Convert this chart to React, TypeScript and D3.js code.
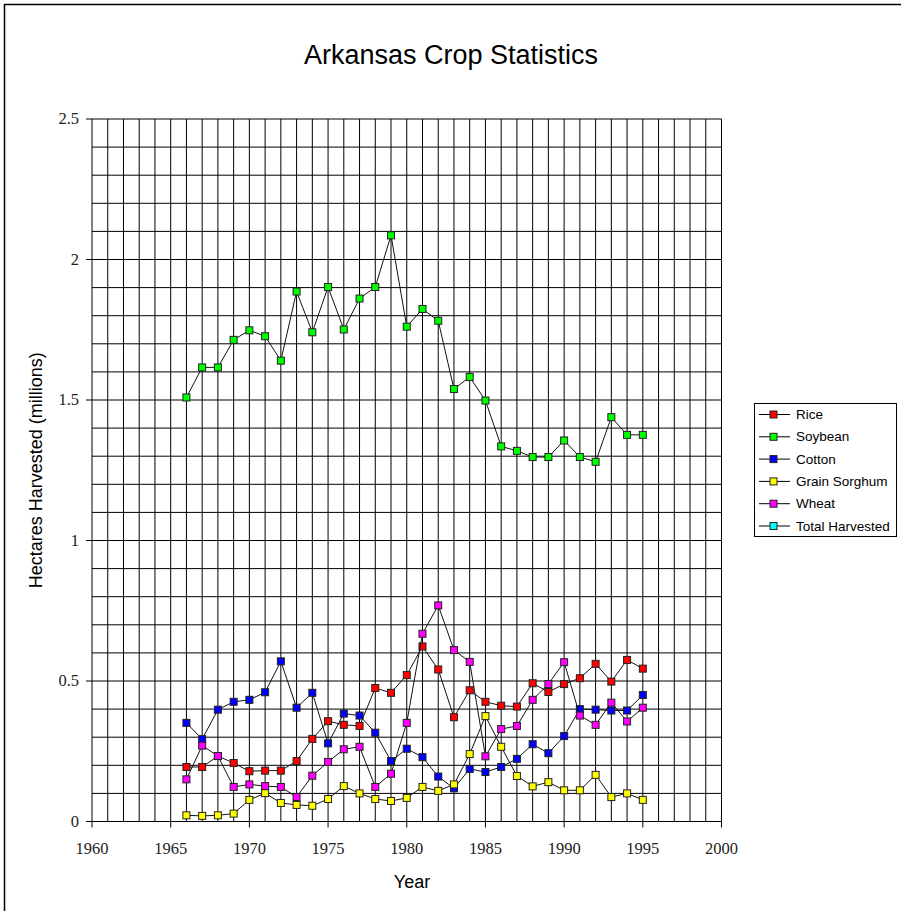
import React, { useEffect, useRef } from 'react';
import * as d3 from 'd3';

// Years covered by the series
const years = [
  1966, 1967, 1968, 1969, 1970, 1971, 1972, 1973, 1974, 1975,
  1976, 1977, 1978, 1979, 1980, 1981, 1982, 1983, 1984, 1985,
  1986, 1987, 1988, 1989, 1990, 1991, 1992, 1993, 1994, 1995,
];

// Hectares harvested (millions)
const rice = [
  0.194, 0.194, 0.233, 0.208, 0.179, 0.181, 0.181, 0.215, 0.294, 0.357,
  0.344, 0.340, 0.475, 0.458, 0.521, 0.623, 0.541, 0.371, 0.467, 0.426,
  0.412, 0.409, 0.492, 0.461, 0.489, 0.510, 0.561, 0.498, 0.575, 0.544,
];
const soybean = [
  1.509, 1.616, 1.616, 1.714, 1.748, 1.727, 1.640, 1.886, 1.741, 1.902,
  1.751, 1.861, 1.902, 2.086, 1.761, 1.824, 1.782, 1.539, 1.582, 1.498,
  1.335, 1.319, 1.297, 1.297, 1.356, 1.297, 1.280, 1.439, 1.376, 1.376,
];
const cotton = [
  0.351, 0.293, 0.398, 0.426, 0.433, 0.460, 0.570, 0.405, 0.458, 0.278,
  0.384, 0.377, 0.316, 0.215, 0.259, 0.229, 0.160, 0.118, 0.187, 0.176,
  0.194, 0.223, 0.275, 0.243, 0.304, 0.400, 0.398, 0.395, 0.395, 0.450,
];
const grainSorghum = [
  0.022, 0.020, 0.022, 0.028, 0.077, 0.101, 0.066, 0.059, 0.056, 0.080,
  0.126, 0.100, 0.080, 0.073, 0.084, 0.123, 0.109, 0.132, 0.240, 0.375,
  0.266, 0.162, 0.125, 0.140, 0.111, 0.111, 0.166, 0.087, 0.100, 0.077,
];
const wheat = [
  0.150, 0.270, 0.233, 0.123, 0.132, 0.126, 0.123, 0.087, 0.163, 0.212,
  0.257, 0.266, 0.123, 0.170, 0.351, 0.668, 0.769, 0.610, 0.568, 0.232,
  0.329, 0.340, 0.433, 0.489, 0.567, 0.377, 0.344, 0.423, 0.356, 0.405,
];
// Total harvested is off the scale, only shown in the legend
const totalHarvested: number[] = [];

const seriesNames = ['Rice', 'Soybean', 'Cotton', 'Grain Sorghum', 'Wheat', 'Total Harvested'];
const seriesValues = [rice, soybean, cotton, grainSorghum, wheat, totalHarvested];
const seriesColors = ['#ff0000', '#00ff00', '#0000ff', '#ffff00', '#ff00ff', '#00ffff'];

const yTicks = [0, 0.5, 1, 1.5, 2, 2.5];
const xTicks = [1960, 1965, 1970, 1975, 1980, 1985, 1990, 1995, 2000];

const W = 901;
const H = 911;

const App: React.FC = () => {
  const svgRef = useRef<SVGSVGElement>(null);

  useEffect(() => {
    if (!svgRef.current) return;
    const svg = d3.select(svgRef.current);
    svg.selectAll('*').remove();

    const left = 92, right = 721.5, top = 119, bottom = 821.5;
    const x = d3.scaleLinear().domain([1960, 2000]).range([left, right]);
    const y = d3.scaleLinear().domain([0, 2.5]).range([bottom, top]);

    svg.append('rect').attr('width', W).attr('height', H).attr('fill', '#fff');

    // outer frame
    svg.append('rect')
      .attr('x', 4.5).attr('y', 4.5)
      .attr('width', W + 20).attr('height', H + 20)
      .attr('fill', 'none').attr('stroke', '#000').attr('stroke-width', 1.5);

    svg.append('text')
      .attr('x', 451).attr('y', 64)
      .attr('text-anchor', 'middle')
      .attr('font-family', 'Liberation Sans, Arial, sans-serif')
      .attr('font-size', 27)
      .text('Arkansas Crop Statistics');

    // --- grid ---
    const grid = svg.append('g').attr('stroke', '#000').attr('stroke-width', 1);
    d3.range(1960, 2001).forEach((yr) => {
      grid.append('line')
        .attr('x1', x(yr)).attr('x2', x(yr))
        .attr('y1', top).attr('y2', bottom);
    });
    d3.range(0, 26).forEach((i) => {
      const v = i / 10;
      grid.append('line')
        .attr('x1', left).attr('x2', right)
        .attr('y1', y(v)).attr('y2', y(v));
    });

    // --- axes ---
    const axisFont = 'Liberation Serif, Times New Roman, serif';
    yTicks.forEach((v) => {
      svg.append('line')
        .attr('x1', left - 6).attr('x2', left)
        .attr('y1', y(v)).attr('y2', y(v))
        .attr('stroke', '#000');
      svg.append('text')
        .attr('x', left - 13).attr('y', y(v) + 5)
        .attr('text-anchor', 'end')
        .attr('font-family', axisFont)
        .attr('font-size', 16.5)
        .attr('fill', '#222')
        .text(String(v));
    });
    xTicks.forEach((v) => {
      svg.append('line')
        .attr('x1', x(v)).attr('x2', x(v))
        .attr('y1', bottom).attr('y2', bottom + 6)
        .attr('stroke', '#000');
      svg.append('text')
        .attr('x', x(v)).attr('y', bottom + 32)
        .attr('text-anchor', 'middle')
        .attr('font-family', axisFont)
        .attr('font-size', 16.5)
        .attr('fill', '#222')
        .text(String(v));
    });

    svg.append('text')
      .attr('x', 412).attr('y', 888)
      .attr('text-anchor', 'middle')
      .attr('font-family', 'Liberation Sans, Arial, sans-serif')
      .attr('font-size', 18)
      .text('Year');

    svg.append('text')
      .attr('transform', `translate(42,${(top + bottom) / 2}) rotate(-90)`)
      .attr('text-anchor', 'middle')
      .attr('font-family', 'Liberation Sans, Arial, sans-serif')
      .attr('font-size', 18)
      .text('Hectares Harvested (millions)');

    // --- series ---
    const line = d3.line<number>()
      .x((_, i) => x(years[i]))
      .y((d) => y(d));

    seriesValues.forEach((vals, si) => {
      if (!vals.length) return;
      const g = svg.append('g');
      g.append('path')
        .attr('d', line(vals) || '')
        .attr('fill', 'none')
        .attr('stroke', '#111')
        .attr('stroke-width', 1);
      vals.forEach((v, i) => {
        g.append('rect')
          .attr('x', x(years[i]) - 3.5).attr('y', y(v) - 3.5)
          .attr('width', 7).attr('height', 7)
          .attr('fill', seriesColors[si])
          .attr('stroke', '#222')
          .attr('stroke-width', 1);
      });
    });

    // --- legend ---
    const lg = svg.append('g');
    lg.append('rect')
      .attr('x', 754.5).attr('y', 403.5)
      .attr('width', 142).attr('height', 133)
      .attr('fill', '#fff').attr('stroke', '#000');
    seriesNames.forEach((name, i) => {
      const ly = 414.5 + i * 22.3;
      lg.append('line')
        .attr('x1', 759).attr('x2', 790)
        .attr('y1', ly).attr('y2', ly)
        .attr('stroke', '#000');
      lg.append('rect')
        .attr('x', 770).attr('y', ly - 3.5)
        .attr('width', 7).attr('height', 7)
        .attr('fill', seriesColors[i])
        .attr('stroke', '#222');
      lg.append('text')
        .attr('x', 796).attr('y', ly + 4.5)
        .attr('font-family', 'Liberation Sans, Arial, sans-serif')
        .attr('font-size', 13.5)
        .text(name);
    });
  }, []);

  return (
    <svg
      ref={svgRef}
      width={W}
      height={H}
      style={{ position: 'absolute', left: 0, top: 0, display: 'block' }}
    />
  );
};

export default App;
